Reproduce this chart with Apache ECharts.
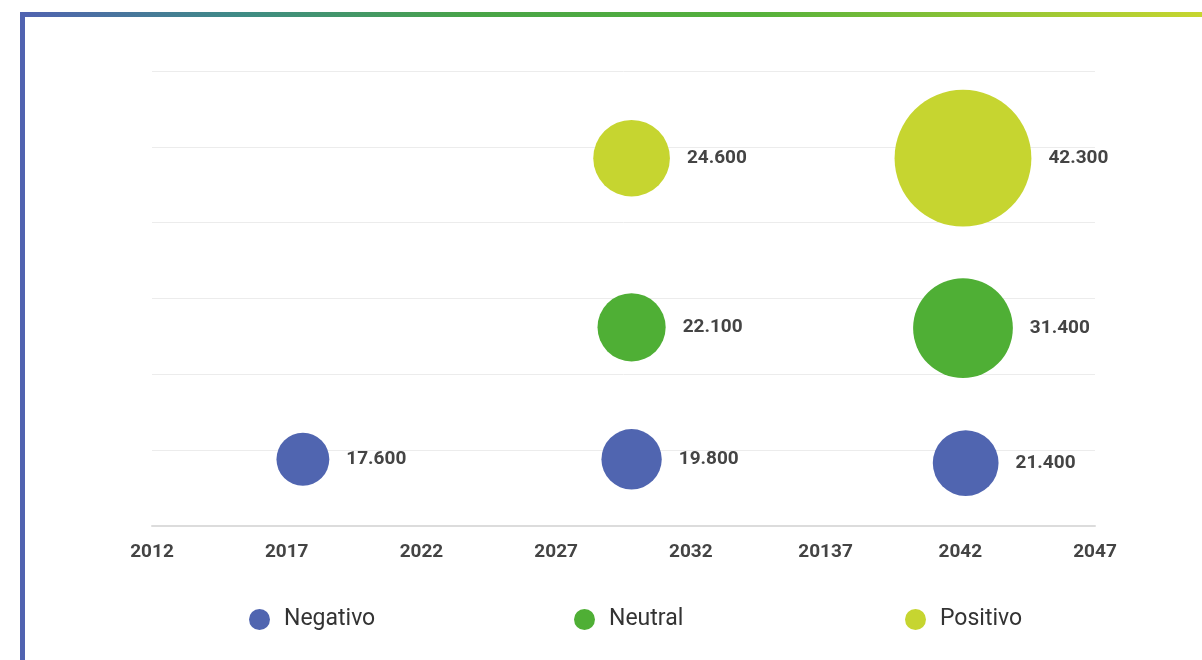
<!DOCTYPE html>
<html>
<head>
<meta charset="utf-8">
<script src="https://cdn.jsdelivr.net/npm/echarts@6/dist/echarts.min.js"></script>
<style>
  html, body { margin: 0; padding: 0; background: #fff; }
  .frame {
    position: absolute;
    left: 20px;
    top: 12px;
    width: 1182px;
    height: 648px;
    border-left: 5px solid #5063b0;
  }
  .frame-top {
    position: absolute;
    left: 0;
    top: 0;
    width: 100%;
    height: 5px;
    background: linear-gradient(90deg, #5063b0 0%, #3f8b86 18%, #48a447 38%, #55b13b 62%, #c8d62f 100%);
  }
  #chart { position: absolute; left: 0; top: 0; width: 1202px; height: 660px; }
</style>
</head>
<body>
<div class="frame"><div class="frame-top"></div></div>
<div id="chart"></div>
<script>
// tick labels as printed on the original (incl. the "20137" typo)
const xTickLabels = ['2012', '2017', '2022', '2027', '2032', '20137', '2042', '2047']
const seriesNames = ['Negativo', 'Neutral', 'Positivo']
const seriesColors = ['#5065b0', '#4faf35', '#c6d530']

// [year, row position, value]
const negativo = [[2017.6, 0.88, 17600], [2029.8, 0.88, 19800], [2042.2, 0.83, 21400]]
const neutral = [[2029.8, 2.62, 22100], [2042.1, 2.61, 31400]]
const positivo = [[2029.8, 4.85, 24600], [2042.1, 4.85, 42300]]

const seriesData = [negativo, neutral, positivo]

const fmt = v => String(v).replace(/\B(?=(\d{3})+(?!\d))/g, '.')
const bubbleSize = d => d[2] / 1000 * 3.4 - 7

const chart = echarts.init(document.getElementById('chart'))

const legendLeft = [249, 574, 905]

chart.setOption({
  animation: false,
  textStyle: { fontFamily: 'Roboto, sans-serif' },
  grid: { left: 152, right: 107, top: 71, bottom: 134 },
  legend: seriesNames.map((name, i) => ({
    data: [name],
    left: legendLeft[i],
    top: 608,
    padding: 0,
    icon: 'circle',
    itemWidth: 21,
    itemHeight: 21,
    textStyle: { fontSize: 23, color: '#333', padding: [0, 0, 0, 9] }
  })),
  xAxis: {
    type: 'value',
    min: 2012,
    max: 2047,
    interval: 5,
    axisLine: { show: true, onZero: false, lineStyle: { color: '#dcdcdc', width: 2 } },
    axisTick: { show: false },
    splitLine: { show: false },
    axisLabel: {
      margin: 17,
      fontSize: 19,
      fontWeight: 'bold',
      color: '#444',
      formatter: v => xTickLabels[Math.round((v - 2012) / 5)] || ''
    }
  },
  yAxis: {
    type: 'value',
    min: 0,
    max: 6,
    interval: 1,
    axisLine: { show: false },
    axisTick: { show: false },
    axisLabel: { show: false },
    splitLine: { lineStyle: { color: '#ececec', width: 1 } }
  },
  series: seriesNames.map((name, i) => ({
    name: name,
    type: 'scatter',
    data: seriesData[i],
    symbolSize: bubbleSize,
    itemStyle: { color: seriesColors[i], opacity: 1 },
    label: {
      show: true,
      position: 'right',
      distance: 17,
      fontSize: 19,
      fontWeight: 'bold',
      color: '#444',
      formatter: p => fmt(p.data[2])
    }
  }))
})
</script>
</body>
</html>
